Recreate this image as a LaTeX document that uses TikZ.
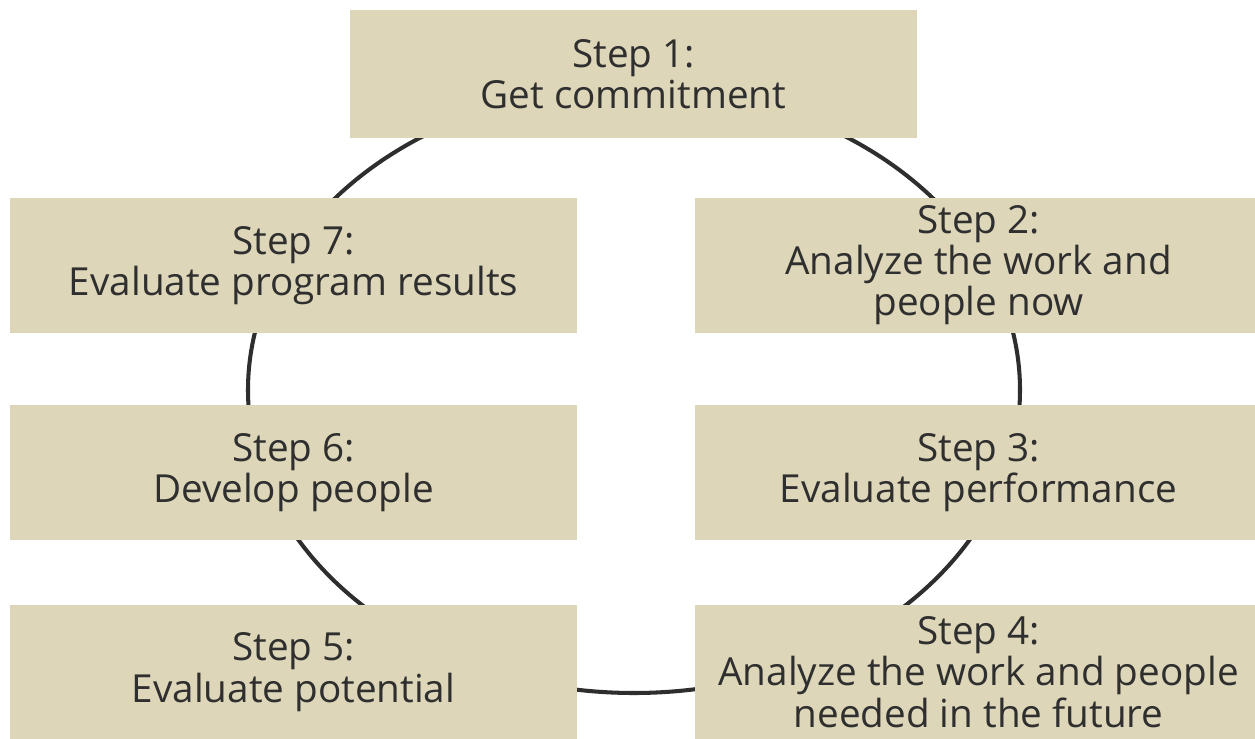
\documentclass[tikz,border=0pt]{standalone}
\usepackage{fontspec}
\setmainfont{Open Sans}
\usepackage{tikz}
\usetikzlibrary{positioning}
\definecolor{boxfill}{HTML}{DDD6B8}
\definecolor{ringcol}{HTML}{2E2E2E}
\definecolor{txtcol}{HTML}{2F2F2F}

\begin{document}
\begin{tikzpicture}[stepbox/.style={rectangle,fill=boxfill,minimum width=11.34cm,
		minimum height=2.7cm,align=center,text=txtcol,font=\fontsize{22}{23.5}\selectfont},
		ring/.style={draw=ringcol,line width=2.3pt}]
	\useasboundingbox (0,0) rectangle (25.1,-14.78);
	\fill[white] (0,0) rectangle (25.1,-14.78);
	\coordinate (c) at (12.68,-7.8);
	\draw[ring] (c) ellipse [x radius=7.72cm, y radius=6.06cm];
	\node [stepbox, minimum height=2.56cm] (1) at (12.67,-1.48) {Step 1:\\Get commitment};
	\node [stepbox] (2) at (19.57,-5.30) {Step 2:\\Analyze the work and\\people now};
	\node [stepbox] (3) at (19.57,-9.45) {Step 3:\\Evaluate performance};
	\node [stepbox] (4) at (19.57,-13.44) {Step 4:\\Analyze the work and people\\needed in the future};
	\node [stepbox] (5) at (5.87,-13.44) {Step 5:\\Evaluate potential};
	\node [stepbox] (6) at (5.87,-9.45) {Step 6:\\Develop people};
	\node [stepbox] (7) at (5.87,-5.31) {Step 7:\\Evaluate program results};
\end{tikzpicture}
\end{document}
